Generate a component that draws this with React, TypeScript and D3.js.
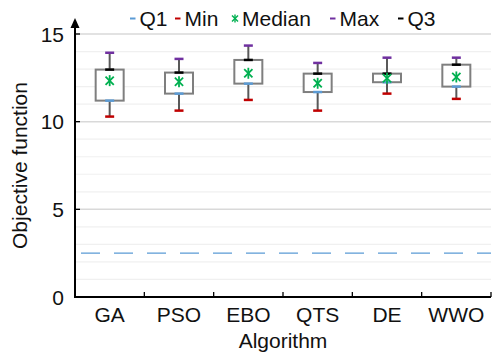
import React from "react";
import * as d3 from "d3";

const categories = ["GA", "PSO", "EBO", "QTS", "DE", "WWO"];
const minVals = [10.29, 10.63, 11.24, 10.63, 11.6, 11.3];
const q1Vals = [11.2, 11.6, 12.17, 11.69, 12.25, 12.0];
const medianVals = [12.34, 12.28, 12.76, 12.19, 12.47, 12.55];
const q3Vals = [12.97, 12.8, 13.52, 12.74, 12.74, 13.25];
const maxVals = [13.93, 13.58, 14.34, 13.35, 13.65, 13.65];
const referenceValue = 2.5;
const yTicks = [0, 5, 10, 15];
const minorTicks = [1, 2, 3, 4, 6, 7, 8, 9, 11, 12, 13, 14];
const legendLabels = ["Q1", "Min", "Median", "Max", "Q3"];

const W = 493;
const H = 356;
const M = { left: 75, right: 2, top: 34, bottom: 59 };
const FONT = "'Liberation Sans', Arial, sans-serif";
const FS = 21;
const C = {
  q1: "#5B9BD5",
  min: "#C00000",
  median: "#00B050",
  max: "#7030A0",
  q3: "#000000",
};

function Star({ cx, cy, r, color, sw = 1.6 }: any) {
  const d = r * 0.75;
  return (
    <g stroke={color} strokeWidth={sw}>
      <line x1={cx - d} y1={cy - d} x2={cx + d} y2={cy + d} />
      <line x1={cx - d} y1={cy + d} x2={cx + d} y2={cy - d} />
      <line x1={cx} y1={cy - r} x2={cx} y2={cy + r} />
    </g>
  );
}

export default function App() {
  const x = d3
    .scaleBand<string>()
    .domain(categories)
    .range([M.left, W - M.right])
    .paddingInner(0)
    .paddingOuter(0);
  const y = d3.scaleLinear().domain([0, 15]).range([H - M.bottom, M.top]);
  const bw = x.bandwidth();
  const boxW = 28;
  const capW = 9;

  const legendX = [130, 175, 235, 330, 398];
  const legendColors = [C.q1, C.min, C.median, C.max, C.q3];

  return (
    <svg
      width={W}
      height={H}
      style={{ position: "absolute", left: 0, top: 0 }}
      fontFamily={FONT}
    >
      <rect width={W} height={H} fill="white" />
      {minorTicks.map((t) => (
        <line
          key={"m" + t}
          x1={M.left}
          x2={W - M.right}
          y1={y(t)}
          y2={y(t)}
          stroke="#f0f0f0"
          strokeWidth={1.2}
        />
      ))}
      {yTicks
        .filter((t) => t > 0)
        .map((t) => (
          <line
            key={"g" + t}
            x1={M.left}
            x2={W - M.right}
            y1={y(t)}
            y2={y(t)}
            stroke="#d9d9d9"
            strokeWidth={1.5}
          />
        ))}
      <line
        x1={M.left}
        x2={W - M.right}
        y1={y(referenceValue)}
        y2={y(referenceValue)}
        stroke={C.q1}
        strokeWidth={1.3}
        strokeDasharray="19 14"
        strokeDashoffset={-6}
      />
      {categories.map((c, i) => {
        const cx = x(c)! + bw / 2;
        return (
          <g key={c}>
            <line
              x1={cx}
              x2={cx}
              y1={y(maxVals[i])}
              y2={y(minVals[i])}
              stroke="#595959"
              strokeWidth={2}
            />
            <rect
              x={cx - boxW / 2}
              y={y(q3Vals[i])}
              width={boxW}
              height={y(q1Vals[i]) - y(q3Vals[i])}
              fill="white"
              stroke="#7f7f7f"
              strokeWidth={2}
            />
            <line x1={cx - capW / 2} x2={cx + capW / 2} y1={y(maxVals[i])} y2={y(maxVals[i])} stroke={C.max} strokeWidth={2.5} />
            <line x1={cx - capW / 2} x2={cx + capW / 2} y1={y(q3Vals[i])} y2={y(q3Vals[i])} stroke={C.q3} strokeWidth={2.5} />
            <line x1={cx - capW / 2} x2={cx + capW / 2} y1={y(q1Vals[i])} y2={y(q1Vals[i])} stroke={C.q1} strokeWidth={2.5} />
            <line x1={cx - capW / 2} x2={cx + capW / 2} y1={y(minVals[i])} y2={y(minVals[i])} stroke={C.min} strokeWidth={2.5} />
            <Star cx={cx} cy={y(medianVals[i])} r={5.5} color={C.median} sw={1.8} />
          </g>
        );
      })}
      {/* axes */}
      <line x1={M.left} x2={W - M.right} y1={y(0)} y2={y(0)} stroke="#000" strokeWidth={2} />
      <line x1={M.left} x2={M.left} y1={y(0) + 1} y2={24} stroke="#000" strokeWidth={2} />
      <path d={`M${M.left},18 L${M.left - 4.5},28 L${M.left + 4.5},28 Z`} fill="#000" />
      {yTicks.map((t) => (
        <g key={"t" + t}>
          <line x1={M.left} x2={M.left + 5} y1={y(t)} y2={y(t)} stroke="#000" strokeWidth={1.3} />
          <text
            x={M.left - 11}
            y={y(t)}
            dy="0.36em"
            textAnchor="end"
            fontSize={FS}
            fill="#111"
          >
            {t}
          </text>
        </g>
      ))}
      {categories.map((c) => (
        <g key={"x" + c}>
          <line
            x1={x(c)! + bw}
            x2={x(c)! + bw}
            y1={y(0)}
            y2={y(0) - 5}
            stroke="#000"
            strokeWidth={1.3}
          />
          <text
            x={x(c)! + bw / 2}
            y={322}
            textAnchor="middle"
            fontSize={FS}
            fill="#111"
          >
            {c}
          </text>
        </g>
      ))}
      <text x={(M.left + W - M.right) / 2} y={348} textAnchor="middle" fontSize={FS} fill="#111">
        Algorithm
      </text>
      <text
        transform={`translate(27,${(y(0) + y(15)) / 2}) rotate(-90)`}
        textAnchor="middle"
        fontSize={FS}
        fill="#111"
      >
        Objective function
      </text>
      {/* legend */}
      {legendLabels.map((l, i) => (
        <g key={"l" + l}>
          {l === "Median" ? (
            <Star cx={legendX[i]} cy={18.5} r={4} color={legendColors[i]} sw={1.4} />
          ) : (
            <line
              x1={legendX[i]}
              x2={legendX[i] + 5.5}
              y1={18.5}
              y2={18.5}
              stroke={legendColors[i]}
              strokeWidth={2}
            />
          )}
          <text
            x={legendX[i] + (l === "Median" ? 7 : 9.5)}
            y={26}
            fontSize={FS}
            fill="#111"
          >
            {l}
          </text>
        </g>
      ))}
    </svg>
  );
}
